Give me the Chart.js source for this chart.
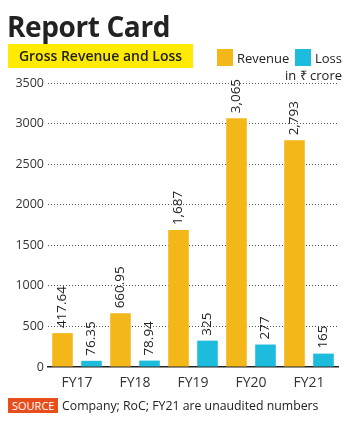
<!DOCTYPE html>
<html>
<head>
<meta charset="utf-8">
<script src="https://cdn.jsdelivr.net/npm/chart.js@4/dist/chart.umd.min.js"></script>
<style>
  html, body { margin: 0; padding: 0; background: #fff; }
  body { width: 350px; height: 424px; position: relative; overflow: hidden; font-family: "Open Sans", sans-serif; color: #222; }
  #wrap { position: absolute; left: 0; top: 0; width: 350px; height: 424px; }
  .title { position: absolute; left: 7px; top: 6px; font-size: 28px; font-weight: 700; color: #222; letter-spacing: -0.4px; line-height: 40px; }
  .sub { position: absolute; left: 8px; top: 44px; width: 185px; height: 24px; background: #FFEB00; font-size: 14px; font-weight: 600; line-height: 24px; text-align: center; color: #222; }
  .sw { position: absolute; width: 16px; height: 17px; }
  .lt { position: absolute; font-size: 13px; line-height: 17px; color: #222; }
  .src { position: absolute; left: 8px; top: 398px; height: 15px; padding: 0 4px; background: #E84E1B; color: #fff; font-size: 11px; line-height: 15px; }
  .srct { position: absolute; left: 62px; top: 397px; font-size: 12.3px; line-height: 17px; color: #222; }
</style>
</head>
<body>
<div id="wrap"><canvas id="c" width="350" height="424"></canvas></div>
<div class="title">Report Card</div>
<div class="sub">Gross Revenue and Loss</div>
<div class="sw" style="left:217px;top:49px;background:#F4B71A"></div>
<div class="lt" style="left:237px;top:50px">Revenue</div>
<div class="sw" style="left:295px;top:49px;background:#1EBCDC"></div>
<div class="lt" style="left:315px;top:50px">Loss</div>
<div class="lt" style="right:8px;top:67px">in ₹ crore</div>
<div class="src">SOURCE</div>
<div class="srct">Company; RoC; FY21 are unaudited numbers</div>
<script>
const categories = ['FY17', 'FY18', 'FY19', 'FY20', 'FY21'];
const revenue = [417.64, 660.95, 1687, 3065, 2793];
const loss = [76.35, 78.94, 325, 277, 165];
const yTicks = [0, 500, 1000, 1500, 2000, 2500, 3000, 3500];

const fmt = new Intl.NumberFormat('en-US', { maximumFractionDigits: 2 });

const barLabels = {
  id: 'barLabels',
  afterDatasetsDraw(chart) {
    const ctx = chart.ctx;
    ctx.save();
    ctx.font = '13.5px "Open Sans", sans-serif';
    ctx.fillStyle = '#222';
    ctx.textAlign = 'left';
    ctx.textBaseline = 'middle';
    chart.data.datasets.forEach((ds, di) => {
      const meta = chart.getDatasetMeta(di);
      meta.data.forEach((el, i) => {
        ctx.save();
        ctx.translate(el.x, el.y - 5);
        ctx.rotate(-Math.PI / 2);
        ctx.fillText(fmt.format(ds.data[i]), 0, 0);
        ctx.restore();
      });
    });
    ctx.restore();
  }
};

new Chart(document.getElementById('c'), {
  type: 'bar',
  data: {
    labels: categories,
    datasets: [
      { label: 'Revenue', data: revenue, backgroundColor: '#F4B71A' },
      { label: 'Loss', data: loss, backgroundColor: '#1EBCDC' }
    ]
  },
  options: {
    responsive: false,
    animation: false,
    devicePixelRatio: 1,
    layout: { padding: { top: 83, right: 12, bottom: 37, left: 0 } },
    categoryPercentage: 1.0,
    barPercentage: 0.71,
    plugins: { legend: { display: false }, tooltip: { enabled: false } },
    scales: {
      x: {
        afterFit(s) { s.height = 20; },
        grid: { display: false, drawTicks: false },
        border: { display: true, color: '#222', width: 1.5 },
        ticks: { color: '#333', padding: 8, font: { family: 'Open Sans', size: 14 } }
      },
      y: {
        min: 0, max: 3500,
        afterFit(s) { s.width = 48; },
        afterBuildTicks(s) { s.ticks = yTicks.map(v => ({ value: v })); },
        grid: {
          drawTicks: false,
          color: (c) => c.tick && c.tick.value === 0 ? 'rgba(0,0,0,0)' : '#555',
          lineWidth: 1
        },
        border: { display: false, dash: [1, 2] },
        ticks: { color: '#333', padding: 4, font: { family: 'Open Sans', size: 12.5 }, callback: (v) => String(v) }
      }
    }
  },
  plugins: [barLabels]
});
</script>
</body>
</html>
